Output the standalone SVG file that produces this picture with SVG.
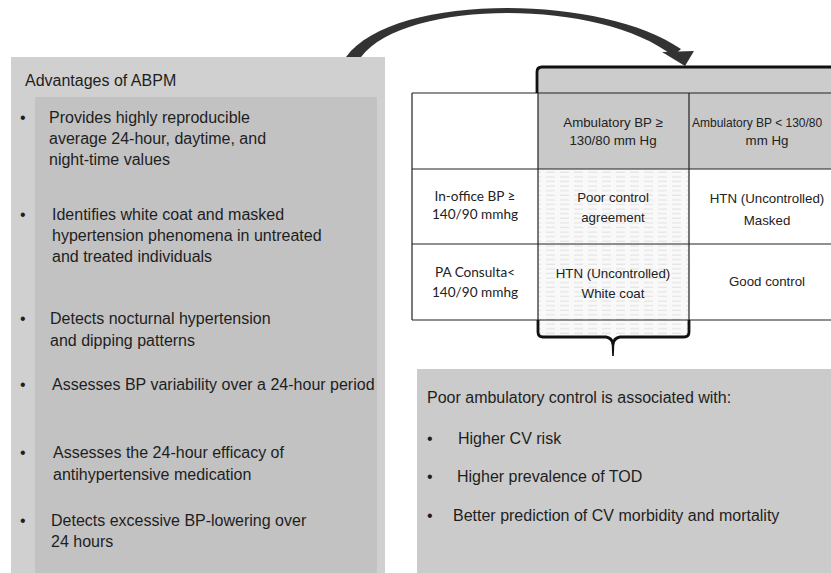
<svg xmlns="http://www.w3.org/2000/svg" width="831" height="573" viewBox="0 0 831 573">
<style>
.t{font-family:"Liberation Sans",Arial,sans-serif;font-size:16px;fill:#1e1e1e}
.c{font-family:"Liberation Sans",Arial,sans-serif;font-size:13.3px;fill:#222;text-anchor:middle}
.r{font-family:Lato,"Liberation Sans",sans-serif;font-size:13.6px;fill:#222;text-anchor:middle}
.grid{stroke:#222;stroke-width:1.2;fill:none}
.brk{stroke:#111;stroke-width:2.8;fill:none;stroke-linejoin:round}
</style>
<defs>
<pattern id="dash" width="14" height="4.6" patternUnits="userSpaceOnUse">
<rect width="14" height="4.6" fill="#f9f9f9"/>
<line x1="0" y1="2" x2="9" y2="2" stroke="#dadada" stroke-width="0.9"/>
</pattern>
</defs>
<rect width="831" height="573" fill="#ffffff"/>

<g id="advantages">
<rect x="11" y="57" width="374" height="516" fill="#d0d0d0"/>
<rect x="35" y="97" width="342" height="476" fill="#c2c2c2"/>
<text class="t" x="25" y="86">Advantages of ABPM</text>
<text class="t" x="20" y="122.5">•</text>
<text class="t" x="49" y="122.5">Provides highly reproducible</text>
<text class="t" x="49" y="143.5">average 24-hour, daytime, and</text>
<text class="t" x="49" y="164.5">night-time values</text>
<text class="t" x="20" y="220">•</text>
<text class="t" x="52" y="220">Identifies white coat and masked</text>
<text class="t" x="52" y="241">hypertension phenomena in untreated</text>
<text class="t" x="52" y="262">and treated individuals</text>
<text class="t" x="20" y="324">•</text>
<text class="t" x="50" y="324">Detects nocturnal hypertension</text>
<text class="t" x="50" y="345.5">and dipping patterns</text>
<text class="t" x="20" y="390">•</text>
<text class="t" x="52" y="390">Assesses BP variability over a 24-hour period</text>
<text class="t" x="20" y="458">•</text>
<text class="t" x="53" y="458">Assesses the 24-hour efficacy of</text>
<text class="t" x="53" y="480">antihypertensive medication</text>
<text class="t" x="20" y="526">•</text>
<text class="t" x="51" y="526">Detects excessive BP-lowering over</text>
<text class="t" x="51" y="547">24 hours</text>
</g>

<g id="table">
<rect x="537" y="67" width="300" height="26" fill="#cccccc"/>
<rect x="412" y="93" width="126" height="76" fill="#ffffff"/>
<rect x="538" y="93" width="300" height="76" fill="#c9c9c9"/>
<rect x="538" y="169" width="151" height="168" fill="url(#dash)"/>
<path class="grid" d="M412,93 H837 M412,169 H837 M412,244 H837 M412,320 H837 M412,93 V320 M538,93 V320 M689,93 V320"/>
<path class="brk" d="M537,93 V72 Q537,67 542,67 H837"/>
<path class="brk" d="M538,320 V332 Q538,337 543,337 H606 Q612,338 613,344 Q614,338 620,337 H684 Q689,337 689,332 V320"/>
<path d="M611.5,340 L614.5,340 L613.8,356 L612.2,356 Z" fill="#111"/>
<text class="c" x="613" y="127">Ambulatory BP ≥</text>
<text class="c" x="613" y="145">130/80 mm Hg</text>
<text class="c" x="692" y="127" style="text-anchor:start;font-size:12px">Ambulatory BP &lt; 130/80</text>
<text class="c" x="767" y="145">mm Hg</text>
<text class="r" x="475" y="201">In-office BP ≥</text>
<text class="r" x="475" y="219">140/90 mmhg</text>
<text class="c" x="613" y="202">Poor control</text>
<text class="c" x="613" y="222">agreement</text>
<text class="c" x="767" y="203">HTN (Uncontrolled)</text>
<text class="c" x="767" y="225">Masked</text>
<text class="r" x="475" y="277">PA Consulta&lt;</text>
<text class="r" x="475" y="297">140/90 mmhg</text>
<text class="c" x="613" y="278">HTN (Uncontrolled)</text>
<text class="c" x="613" y="298">White coat</text>
<text class="c" x="767" y="286">Good control</text>
</g>

<g id="poor-control">
<rect x="417" y="369" width="420" height="204" fill="#cbcbcb"/>
<text class="t" x="427" y="403">Poor ambulatory control is associated with:</text>
<text class="t" x="427" y="444">•</text>
<text class="t" x="458" y="444">Higher CV risk</text>
<text class="t" x="427" y="482">•</text>
<text class="t" x="457" y="482">Higher prevalence of TOD</text>
<text class="t" x="427" y="521">•</text>
<text class="t" x="453" y="521">Better prediction of CV morbidity and mortality</text>
</g>

<g id="connectors">
<path d="M346,57 C392,-7 600,-7 681,49 L673,56 C600,-2 405,-1 361,57 Z" fill="#333"/>
<path d="M662,52 L694,51 L685,66 Z" fill="#333"/>
</g>
</svg>
